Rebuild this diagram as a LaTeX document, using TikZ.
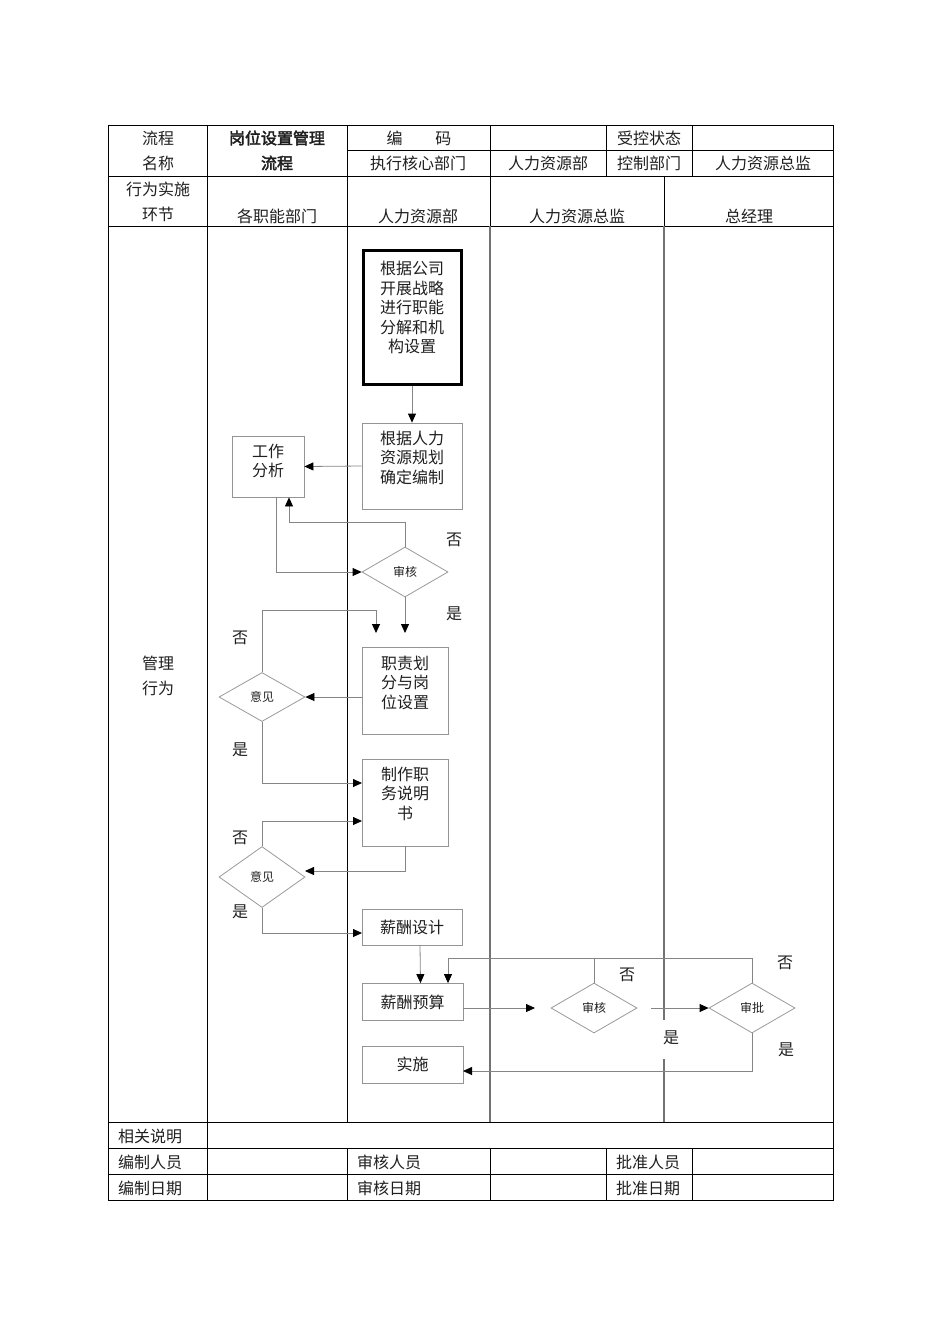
\documentclass[tikz,border=0pt]{standalone}
\usepackage{fontspec}
\newfontfamily\cjk[AutoFakeBold=2.5]{Noto Sans CJK SC}
\usetikzlibrary{shapes.geometric,arrows.meta,calc}
\begin{document}
\begin{tikzpicture}[x=1pt,y=-1pt,
  every node/.style={font=\cjk\fontsize{16}{19.5}\selectfont, inner sep=0pt, text=black!88},
  tline/.style={line width=0.8pt, draw=black},
  lane/.style={line width=1.3pt, draw=black!55},
  fbox/.style={draw=black!42, line width=0.8pt, rectangle},
  thickbox/.style={draw=black, line width=3pt, rectangle},
  dia/.style={draw=black!40, line width=0.8pt, diamond, minimum width=86pt, minimum height=50pt, font=\cjk\fontsize{12}{14}\selectfont},
  conn/.style={draw=black!48, line width=0.8pt},
  arr/.style={conn, -{Triangle[length=9pt,width=8pt,color=black]}},
  btext/.style={anchor=north, align=center},
  lbl/.style={anchor=center},
  ltext/.style={anchor=west},
]
\useasboundingbox (0,0) rectangle (950,1344);

% ---------- table ----------
\draw[tline] (108,125) rectangle (833,1200);
\draw[tline] (347,150) -- (833,150);
\draw[tline] (108,176) -- (833,176);
\draw[tline] (108,226) -- (833,226);
\draw[tline] (108,1122) -- (833,1122);
\draw[tline] (108,1148) -- (833,1148);
\draw[tline] (108,1174) -- (833,1174);
\draw[tline] (207,125) -- (207,1200);
\draw[tline] (347,125) -- (347,1122);
\draw[tline] (347,1148) -- (347,1200);
\draw[tline] (490,125) -- (490,226);
\draw[lane] (490,226) -- (490,1122);
\draw[tline] (490,1148) -- (490,1200);
\draw[tline] (606,125) -- (606,176);
\draw[tline] (606,1148) -- (606,1200);
\draw[tline] (692,125) -- (692,176);
\draw[tline] (692,1148) -- (692,1200);
\draw[tline] (664,176) -- (664,226);
\draw[lane] (664,226) -- (664,1020);
\draw[lane] (664,1059) -- (664,1122);

% header texts
\node (h1) at (158,138) {流程};
\node (h2) at (158,163) {名称};
\node (h3) at (277,138) {\bfseries 岗位设置管理};
\node (h4) at (277,163) {\bfseries 流程};
\node (h5) at (419,138) {编\hspace{33pt}码};
\node (h6) at (418,163) {执行核心部门};
\node (h7) at (548,163) {人力资源部};
\node (h8) at (649,138) {受控状态};
\node (h9) at (649,163) {控制部门};
\node (h10) at (763,163) {人力资源总监};
\node (r1) at (158,189) {行为实施};
\node (r2) at (158,214) {环节};
\node (r3) at (277,216) {各职能部门};
\node (r4) at (418,216) {人力资源部};
\node (r5) at (577,216) {人力资源总监};
\node (r6) at (749,216) {总经理};
\node (m1) at (158,663) {管理};
\node (m2) at (158,688) {行为};
% footer texts
\node[ltext] (f1) at (118,1136) {相关说明};
\node[ltext] (f2) at (118,1162) {编制人员};
\node[ltext] (f3) at (357,1162) {审核人员};
\node[ltext] (f4) at (616,1162) {批准人员};
\node[ltext] (f5) at (118,1188) {编制日期};
\node[ltext] (f6) at (357,1188) {审核日期};
\node[ltext] (f7) at (616,1188) {批准日期};

% ---------- flow boxes ----------
\node[thickbox, minimum width=98pt, minimum height=134pt] (n1) at (412,317.5) {};
\node[btext] (n1t) at ($(n1.north)+(0,12)$) {根据公司\\开展战略\\进行职能\\分解和机\\构设置};
\node[fbox, minimum width=100pt, minimum height=86pt] (n2) at (412,466) {};
\node[btext] (n2t) at ($(n2.north)+(0,8)$) {根据人力\\资源规划\\确定编制};
\node[fbox, minimum width=72pt, minimum height=61pt] (wa) at (268,466.5) {};
\node[btext] (wat) at ($(wa.north)+(0,8)$) {工作\\分析};
\node[dia] (d1) at (405,572) {审核};
\node[fbox, minimum width=86pt, minimum height=87pt] (n3) at (405,690.5) {};
\node[btext] (n3t) at ($(n3.north)+(0,9)$) {职责划\\分与岗\\位设置};
\node[dia, minimum height=49pt] (d2) at (262,697) {意见};
\node[fbox, minimum width=86pt, minimum height=87pt] (n4) at (405,802.5) {};
\node[btext] (n4t) at ($(n4.north)+(0,8)$) {制作职\\务说明\\书};
\node[dia, minimum height=61pt] (d3) at (262,877) {意见};
\node[fbox, minimum width=100pt, minimum height=36pt] (n5) at (412,927) {薪酬设计};
\node[fbox, minimum width=101pt, minimum height=37pt] (n6) at (412.5,1002) {薪酬预算};
\node[dia] (d4) at (594,1008) {审核};
\node[dia] (d5) at (752,1008) {审批};
\node[fbox, minimum width=101pt, minimum height=37pt] (n7) at (412.5,1064.5) {实施};

% helper coordinates
\coordinate (k1) at (289,522);
\coordinate (k2) at (276,497);
\coordinate (k3) at (405,633);
\coordinate (k4) at (262,610);
\coordinate (k5) at (376,633);
\coordinate (k6) at (362,783);
\coordinate (k7) at (305,871);
\coordinate (k8) at (362,821);
\coordinate (k9) at (362,933);
\coordinate (k10) at (448,958);
\coordinate (k11) at (535,1008);
\coordinate (k12) at (651,1008);
\coordinate (k13) at (463,1071);

% ---------- connectors ----------
\draw[arr] (n1.south) -- (n2.north);
\draw[arr] (n2.west) -- (wa.east);
\draw[arr] (d1.north) |- (k1) -- (k1 |- wa.south);
\draw[arr] (k2) |- (d1.west);
\draw[arr] (d1.south) -- (k3);
\draw[arr] (d2.north) |- (k4) -| (k5);
\draw[arr] (n3.west |- d2.east) -- (d2.east);
\draw[arr] (d2.south) |- (k6);
\draw[arr] (n4.south) |- (k7);
\draw[arr] (d3.north) |- (k8);
\draw[arr] (d3.south) |- (k9);
\draw[arr] ([xshift=8pt]n5.south) -- ([xshift=8pt]n6.north);
\draw[conn] (d4.north) -- (d4.north |- k10);
\draw[arr] (d5.north) |- (k10) -- (k10 |- n6.north);
\draw[arr] (n6.east |- d4.west) -- (k11);
\draw[arr] (k12) -- (d5.west);
\draw[arr] (d5.south) |- (k13);

% ---------- labels ----------
\node[lbl] (l1) at (454,540) {否};
\node[lbl] (l2) at (454,614) {是};
\node[lbl] (l3) at (240,638) {否};
\node[lbl] (l4) at (240,750) {是};
\node[lbl] (l5) at (240,838) {否};
\node[lbl] (l6) at (240,912) {是};
\node[lbl] (l7) at (627,975) {否};
\node[lbl] (l8) at (785,963) {否};
\node[lbl] (l9) at (671,1038) {是};
\node[lbl] (l10) at (786,1050) {是};
\end{tikzpicture}
\end{document}
